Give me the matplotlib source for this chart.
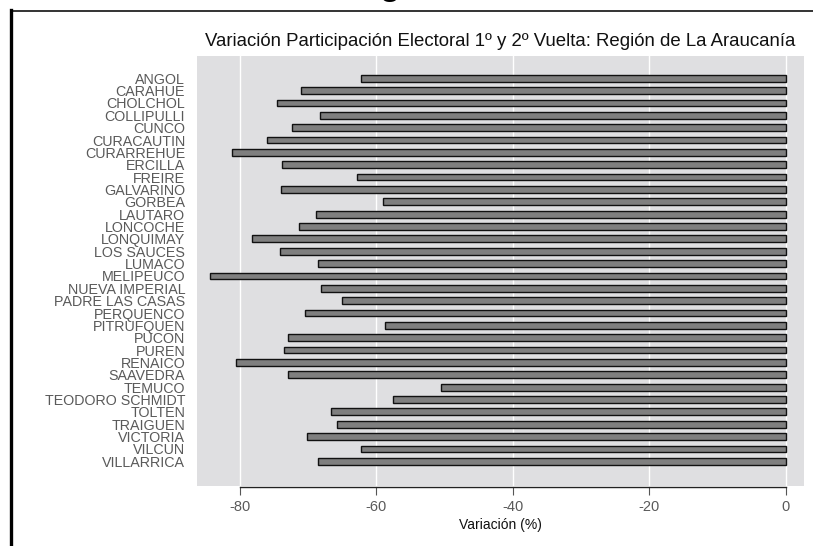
import matplotlib
matplotlib.use("Agg")
import matplotlib.pyplot as plt
from matplotlib.lines import Line2D

comunas = ["ANGOL", "CARAHUE", "CHOLCHOL", "COLLIPULLI", "CUNCO", "CURACAUTIN",
           "CURARREHUE", "ERCILLA", "FREIRE", "GALVARINO", "GORBEA", "LAUTARO",
           "LONCOCHE", "LONQUIMAY", "LOS SAUCES", "LUMACO", "MELIPEUCO",
           "NUEVA IMPERIAL", "PADRE LAS CASAS", "PERQUENCO", "PITRUFQUEN", "PUCON",
           "PUREN", "RENAICO", "SAAVEDRA", "TEMUCO", "TEODORO SCHMIDT", "TOLTEN",
           "TRAIGUEN", "VICTORIA", "VILCUN", "VILLARRICA"]
variacion = [-62.3, -71.0, -74.5, -68.3, -72.3, -76.0, -81.2, -73.8, -62.9, -74.0,
             -59.0, -68.8, -71.3, -78.2, -74.1, -68.6, -84.4, -68.1, -65.1, -70.4,
             -58.8, -73.0, -73.6, -80.6, -73.0, -50.5, -57.6, -66.6, -65.8, -70.2,
             -62.2, -68.6]
xticks = [-80, -60, -40, -20, 0]

W, H = 813, 546
fig = plt.figure(figsize=(W / 100, H / 100), dpi=100)
fig.patch.set_facecolor("white")

# axes placement in pixels
x0, x1 = 197, 804
y_top, y_bot = 56, 486
ax = fig.add_axes([x0 / W, 1 - y_bot / H, (x1 - x0) / W, (y_bot - y_top) / H])
ax.set_facecolor("#dfdfe1")

n = len(comunas)
ypos = list(range(n))
ax.barh(ypos, variacion, height=0.55, color="#7f7f7f", edgecolor="#111111",
        linewidth=1.0, zorder=3)

ax.set_xlim(-86.3, 2.7)
ax.set_ylim(n - 1 + 2.0, -1.8)
ax.set_xticks(xticks)
ax.set_xticklabels([str(t) for t in xticks])
ax.set_yticks(ypos)
ax.set_yticklabels(comunas)
ax.grid(axis="x", color="white", linewidth=1.0, zorder=0)
ax.set_axisbelow(True)

for s in ["top", "right", "left"]:
    ax.spines[s].set_visible(False)
ax.spines["bottom"].set_color("#222222")
ax.spines["bottom"].set_linewidth(1.0)
ax.spines["bottom"].set_position(("outward", 1))
ax.spines["bottom"].set_bounds(xticks[0], xticks[-1])

ax.tick_params(axis="y", length=0, pad=8.5, labelsize=10.3, labelcolor="#5a5a5a")
ax.tick_params(axis="x", length=6, width=0.8, color="#555555", pad=3,
               labelsize=10.5, labelcolor="#5a5a5a")
for lab in ax.get_yticklabels() + ax.get_xticklabels():
    lab.set_family("Liberation Sans")

ax.set_xlabel("Variación (%)", fontsize=10, family="Liberation Sans",
              color="#111111", labelpad=3)

fig.text(500.5 / W, 1 - 42 / H,
         "Variación Participación Electoral 1º y 2º Vuelta: Región de La Araucanía",
         ha="center", va="center", fontsize=13.45, family="Liberation Sans",
         color="#111111")

# surrounding frame (screenshot of a page)
fig.add_artist(Line2D([10.5 / W, 1.0], [1 - 10.5 / H, 1 - 10.5 / H],
                      transform=fig.transFigure, color="#333333", linewidth=1.4))
fig.add_artist(Line2D([10.5 / W, 10.5 / W], [1 - 10 / H, 0.0],
                      transform=fig.transFigure, color="black", linewidth=2.4))
fig.text(390 / W, 1 + 5 / H, "g", ha="center", va="baseline", fontsize=24,
         fontweight="bold", family="Liberation Sans", color="black")

fig.savefig("out.png", dpi=100, facecolor="white")
